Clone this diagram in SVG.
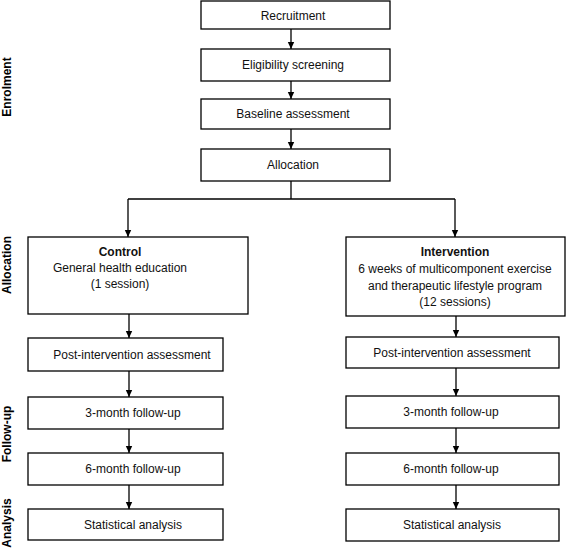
<svg xmlns="http://www.w3.org/2000/svg" width="567" height="550" viewBox="0 0 567 550">
<defs>
<marker id="ah" markerWidth="8" markerHeight="8" refX="7" refY="4" orient="auto" markerUnits="userSpaceOnUse">
<path d="M0,0.8 L7,4 L0,7.2 Z" fill="#000"/>
</marker>
<style>
.box{fill:#fff;stroke:#000;stroke-width:1.3}
.t{font-family:"Liberation Sans",Arial,sans-serif;font-size:12px;fill:#111;text-anchor:middle}
.b{font-weight:bold}
.side{font-family:"Liberation Sans",Arial,sans-serif;font-size:12px;font-weight:bold;fill:#000;text-anchor:middle}
.c{fill:none;stroke:#000;stroke-width:1.3}
</style>
</defs>
<rect width="567" height="550" fill="#fff"/>
<g id="labels">
<text class="side" transform="translate(11,87) rotate(-90)">Enrolment</text>
<text class="side" transform="translate(11,265) rotate(-90)">Allocation</text>
<text class="side" transform="translate(11,434) rotate(-90)">Follow-up</text>
<text class="side" transform="translate(11,523) rotate(-90)">Analysis</text>
</g>
<g id="connectors">
<path class="c" d="M291,29 V49" marker-end="url(#ah)"/>
<path class="c" d="M291,81 V99" marker-end="url(#ah)"/>
<path class="c" d="M291,129 V149" marker-end="url(#ah)"/>
<path class="c" d="M291,181 V199"/>
<path class="c" d="M128,199 H455"/>
<path class="c" d="M128,199 V237" marker-end="url(#ah)"/>
<path class="c" d="M455,199 V237" marker-end="url(#ah)"/>
<path class="c" d="M129,314 V338" marker-end="url(#ah)"/>
<path class="c" d="M129,371 V397" marker-end="url(#ah)"/>
<path class="c" d="M129,429 V453" marker-end="url(#ah)"/>
<path class="c" d="M129,485 V509" marker-end="url(#ah)"/>
<path class="c" d="M456,316 V337" marker-end="url(#ah)"/>
<path class="c" d="M456,368 V396" marker-end="url(#ah)"/>
<path class="c" d="M456,428 V453" marker-end="url(#ah)"/>
<path class="c" d="M456,485 V509" marker-end="url(#ah)"/>
</g>
<g id="recruitment"><rect class="box" x="201" y="1" width="189" height="28"/><text class="t" x="293" y="20">Recruitment</text></g>
<g id="eligibility"><rect class="box" x="201" y="49" width="189" height="32"/><text class="t" x="293" y="69">Eligibility screening</text></g>
<g id="baseline"><rect class="box" x="201" y="99" width="189" height="30"/><text class="t" x="293" y="118">Baseline assessment</text></g>
<g id="allocation"><rect class="box" x="201" y="149" width="189" height="32"/><text class="t" x="293" y="169">Allocation</text></g>
<g id="control"><rect class="box" x="28" y="237" width="220" height="77"/>
<text class="t b" x="120" y="256">Control</text>
<text class="t" x="120" y="272">General health education</text>
<text class="t" x="120" y="288">(1 session)</text></g>
<g id="intervention"><rect class="box" x="346" y="237" width="219" height="79"/>
<text class="t b" x="455" y="256">Intervention</text>
<text class="t" x="455" y="273">6 weeks of multicomponent exercise</text>
<text class="t" x="455" y="290">and therapeutic lifestyle program</text>
<text class="t" x="455" y="306">(12 sessions)</text></g>
<g id="c-post"><rect class="box" x="28" y="338" width="195" height="33"/><text class="t" x="132" y="359">Post-intervention assessment</text></g>
<g id="c-3m"><rect class="box" x="28" y="397" width="195" height="32"/><text class="t" x="133" y="417">3-month follow-up</text></g>
<g id="c-6m"><rect class="box" x="28" y="453" width="195" height="32"/><text class="t" x="133" y="473">6-month follow-up</text></g>
<g id="c-stat"><rect class="box" x="28" y="509" width="195" height="31"/><text class="t" x="133" y="529">Statistical analysis</text></g>
<g id="i-post"><rect class="box" x="346" y="337" width="213" height="31"/><text class="t" x="452" y="357">Post-intervention assessment</text></g>
<g id="i-3m"><rect class="box" x="346" y="396" width="213" height="32"/><text class="t" x="451" y="416">3-month follow-up</text></g>
<g id="i-6m"><rect class="box" x="346" y="453" width="213" height="32"/><text class="t" x="451" y="473">6-month follow-up</text></g>
<g id="i-stat"><rect class="box" x="346" y="509" width="213" height="32"/><text class="t" x="452" y="529">Statistical analysis</text></g>
</svg>
